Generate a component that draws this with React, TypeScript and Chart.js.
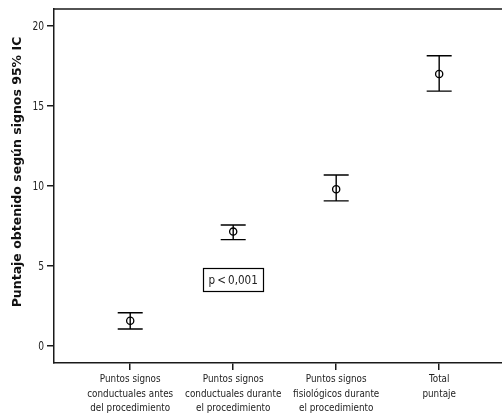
import React, { useEffect, useRef } from "react";
import { Chart, registerables } from "chart.js";

Chart.register(...registerables);

const categories: string[][] = [
  ["Puntos signos", "conductuales antes", "del procedimiento"],
  ["Puntos signos", "conductuales durante", "el procedimiento"],
  ["Puntos signos", "fisiológicos durante", "el procedimiento"],
  ["Total", "puntaje"],
];
const means = [1.58, 7.15, 9.8, 17.0];
const lowerCI = [1.06, 6.65, 9.07, 15.93];
const upperCI = [2.08, 7.56, 10.69, 18.14];
const yTicks = [0, 5, 10, 15, 20];
const yAxisTitle = "Puntaje obtenido según signos 95% IC";
const pValueText = "p\u2009<\u20090,001";
const pValuePos = { x: 1, y: 4.15 };

const SANS = '"DejaVu Sans", sans-serif';

function narrowText(ctx: any, text: string, x: number, y: number, sx: number) {
  ctx.save();
  ctx.translate(x, y);
  ctx.scale(sx, 1);
  ctx.fillText(text, 0, 0);
  ctx.restore();
}

const frameAndBars = {
  id: "frameAndBars",
  afterDatasetsDraw(chart: any) {
    const { ctx, chartArea, scales } = chart;
    const xs = scales.x;
    const ys = scales.y;
    ctx.save();
    // top frame line
    ctx.strokeStyle = "#1a1a1a";
    ctx.lineWidth = 1.5;
    ctx.beginPath();
    ctx.moveTo(chartArea.left, chartArea.top);
    ctx.lineTo(chartArea.right, chartArea.top);
    ctx.stroke();
    // error bars
    ctx.strokeStyle = "#000";
    ctx.lineWidth = 1.4;
    const cap = 12.5;
    means.forEach((_, i) => {
      const x = xs.getPixelForValue(i);
      const yl = ys.getPixelForValue(lowerCI[i]);
      const yu = ys.getPixelForValue(upperCI[i]);
      ctx.beginPath();
      ctx.moveTo(x, yl);
      ctx.lineTo(x, yu);
      ctx.moveTo(x - cap, yl);
      ctx.lineTo(x + cap, yl);
      ctx.moveTo(x - cap, yu);
      ctx.lineTo(x + cap, yu);
      ctx.stroke();
    });

    // condensed factor
    ctx.font = `11px ${SANS}`;
    const sx = 86 / ctx.measureText("conductuales antes").width;

    // x labels
    ctx.fillStyle = "#222";
    ctx.textAlign = "center";
    ctx.textBaseline = "middle";
    categories.forEach((lines, i) => {
      const x = xs.getPixelForValue(i);
      lines.forEach((ln, j) => {
        narrowText(ctx, ln, x, chartArea.bottom + 16.5 + j * 14.3, sx);
      });
    });

    // y tick labels
    ctx.font = `12px ${SANS}`;
    ctx.textAlign = "right";
    yTicks.forEach((v) => {
      const y = ys.getPixelForValue(v);
      narrowText(ctx, String(v), chartArea.left - 10, y + 0.5, sx * 0.95);
    });

    // y title
    ctx.save();
    ctx.font = `bold 12.5px ${SANS}`;
    ctx.fillStyle = "#111";
    ctx.textAlign = "center";
    ctx.textBaseline = "middle";
    ctx.translate(18, 172);
    ctx.rotate(-Math.PI / 2);
    ctx.fillText(yAxisTitle, 0, 0);
    ctx.restore();

    // p-value box
    const cx = xs.getPixelForValue(pValuePos.x);
    const cy = ys.getPixelForValue(pValuePos.y);
    const w = 60;
    const h = 23;
    ctx.lineWidth = 1.2;
    ctx.strokeStyle = "#000";
    ctx.strokeRect(Math.round(cx - w / 2) + 0.5, Math.round(cy - h / 2) + 0.5, w, h);
    ctx.fillStyle = "#222";
    ctx.font = `13px ${SANS}`;
    ctx.textAlign = "center";
    narrowText(ctx, pValueText, cx, cy + 1, sx);
    ctx.restore();
  },
};

export default function App() {
  const ref = useRef<HTMLCanvasElement | null>(null);
  useEffect(() => {
    if (!ref.current) return;
    const chart = new Chart(ref.current, {
      type: "scatter",
      data: {
        datasets: [
          {
            data: means.map((m, i) => ({ x: i, y: m })),
            pointStyle: "circle",
            pointRadius: 3.6,
            pointBorderWidth: 1.3,
            pointBorderColor: "#000",
            pointBackgroundColor: "rgba(0,0,0,0)",
            showLine: false,
          },
        ],
      },
      plugins: [frameAndBars],
      options: {
        responsive: false,
        animation: false,
        devicePixelRatio: 1,
        layout: { autoPadding: false, padding: { top: 9, right: 0, left: 0, bottom: 0 } },
        plugins: { legend: { display: false }, tooltip: { enabled: false } },
        scales: {
          x: {
            type: "linear",
            min: -0.74,
            max: 3.61,
            afterBuildTicks: (scale: any) => {
              scale.ticks = categories.map((_, i) => ({ value: i }));
            },
            afterFit: (scale: any) => {
              scale.height = 50;
            },
            grid: {
              display: true,
              drawOnChartArea: false,
              drawTicks: true,
              tickLength: 7,
              color: "#1a1a1a",
              lineWidth: 1.5,
            },
            border: { display: true, color: "#1a1a1a", width: 1.5 },
            ticks: { display: false },
          },
          y: {
            type: "linear",
            min: -1.06,
            max: 21.06,
            afterBuildTicks: (scale: any) => {
              scale.ticks = yTicks.map((v) => ({ value: v }));
            },
            afterFit: (scale: any) => {
              scale.width = 54;
            },
            grid: {
              display: true,
              drawOnChartArea: false,
              drawTicks: true,
              tickLength: 7,
              color: "#1a1a1a",
              lineWidth: 1.5,
            },
            border: { display: true, color: "#1a1a1a", width: 1.5 },
            ticks: { display: false },
          },
        },
      },
    });
    return () => chart.destroy();
  }, []);
  return (
    <div style={{ position: "absolute", left: 0, top: 0, width: 502, height: 413, background: "#fff" }}>
      <canvas ref={ref} width={502} height={413} style={{ display: "block" }} />
    </div>
  );
}
